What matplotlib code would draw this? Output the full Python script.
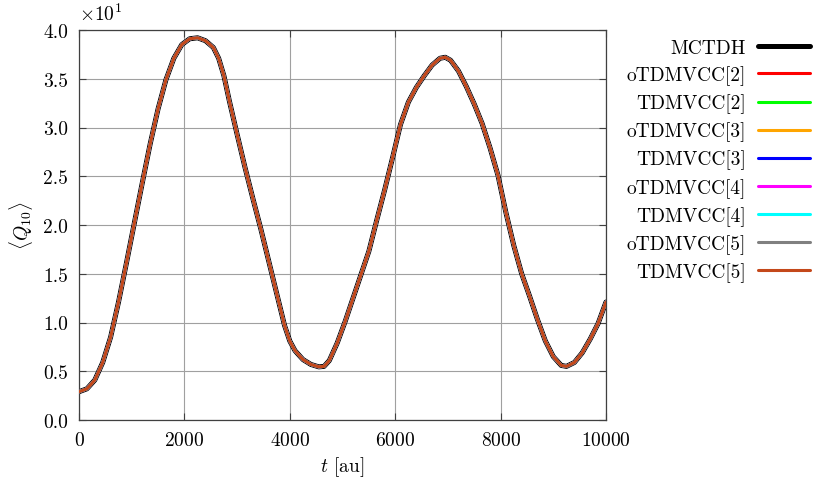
import matplotlib
matplotlib.use("Agg")
import matplotlib.pyplot as plt

# valeurs (t en au, <Q10> en unites reelles)
t = [0, 150, 300, 450, 600, 750, 900, 1050, 1200, 1350, 1500, 1650, 1800,
     1950, 2100, 2250, 2400, 2550, 2650, 2750, 2850, 3000, 3150, 3300, 3450,
     3600, 3750, 3900, 4000, 4100, 4250, 4400, 4550, 4650, 4750, 4900, 5050,
     5200, 5350, 5500, 5650, 5800, 5950, 6100, 6250, 6400, 6550, 6700, 6850,
     6950, 7050, 7200, 7350, 7500, 7650, 7800, 7950, 8100, 8250, 8400, 8550,
     8700, 8850, 9000, 9150, 9250, 9400, 9550, 9700, 9850, 10000]
q10 = [2.9, 3.2, 4.1, 5.9, 8.5, 12.1, 16.1, 20.2, 24.3, 28.3, 31.9, 34.9, 37.1,
       38.5, 39.1, 39.2, 38.9, 38.2, 37.1, 35.3, 32.8, 29.3, 25.9, 22.7, 19.6,
       16.3, 13.0, 9.7, 8.1, 7.1, 6.2, 5.7, 5.45, 5.5, 6.1, 7.9, 10.1, 12.5,
       14.9, 17.3, 20.5, 23.6, 26.9, 30.3, 32.6, 34.1, 35.3, 36.4, 37.1, 37.2,
       36.9, 35.8, 34.2, 32.4, 30.4, 27.9, 25.1, 21.3, 17.9, 15.0, 12.7, 10.3,
       8.1, 6.5, 5.6, 5.5, 5.9, 6.9, 8.3, 9.9, 12.1]

methodes = ["MCTDH", "oTDMVCC[2]", "TDMVCC[2]", "oTDMVCC[3]", "TDMVCC[3]",
            "oTDMVCC[4]", "TDMVCC[4]", "oTDMVCC[5]", "TDMVCC[5]"]
couleurs = ["black", "#ff0000", "#00ff00", "#ffa500", "#0000ff",
            "#ff00ff", "#00ffff", "#808080", "#c4481a"]

plt.rcParams["font.family"] = "serif"
plt.rcParams["font.serif"] = ["cmr10"]
plt.rcParams["mathtext.fontset"] = "cm"
plt.rcParams["axes.formatter.use_mathtext"] = True
plt.rcParams["font.size"] = 14

fig = plt.figure(figsize=(8.3, 4.85), dpi=100)
ax = fig.add_axes([79 / 830, 64 / 485, 527 / 830, 390 / 485])

for i, (nom, c) in enumerate(zip(methodes, couleurs)):
    lw = 3.6 if i == 0 else 2.2
    ax.plot(t, q10, color=c, lw=lw, label=nom, solid_joinstyle="round",
            solid_capstyle="round", zorder=2 + i)

ax.set_xlim(0, 10000)
ax.set_ylim(0, 40)
ax.set_xticks([0, 2000, 4000, 6000, 8000, 10000])
ax.set_yticks([0, 5, 10, 15, 20, 25, 30, 35, 40])
ax.yaxis.set_major_formatter(matplotlib.ticker.FuncFormatter(lambda v, p: f"{v / 10:.1f}"))
ax.text(0.0, 1.015, r"$\times10^{1}$", transform=ax.transAxes, fontsize=14,
        ha="left", va="bottom")

ax.grid(True, color="#a0a0a0", lw=0.8)
ax.tick_params(direction="in", length=5, width=0.8, top=True, right=True,
               colors="#404040", labelcolor="black", pad=8)
for s in ax.spines.values():
    s.set_color("#404040")
    s.set_linewidth(0.9)

ax.set_xlabel(r"$t$ [au]", labelpad=4)
ax.set_ylabel(r"$\langle Q_{10}\rangle$", labelpad=6)

fig.legend(loc="upper right", bbox_to_anchor=(810 / 830, 445 / 485),
           frameon=False, markerfirst=False, borderpad=0, borderaxespad=0,
           handlelength=2.7, handletextpad=0.6, labelspacing=0.43, fontsize=14)

fig.savefig("out.png", dpi=100)
